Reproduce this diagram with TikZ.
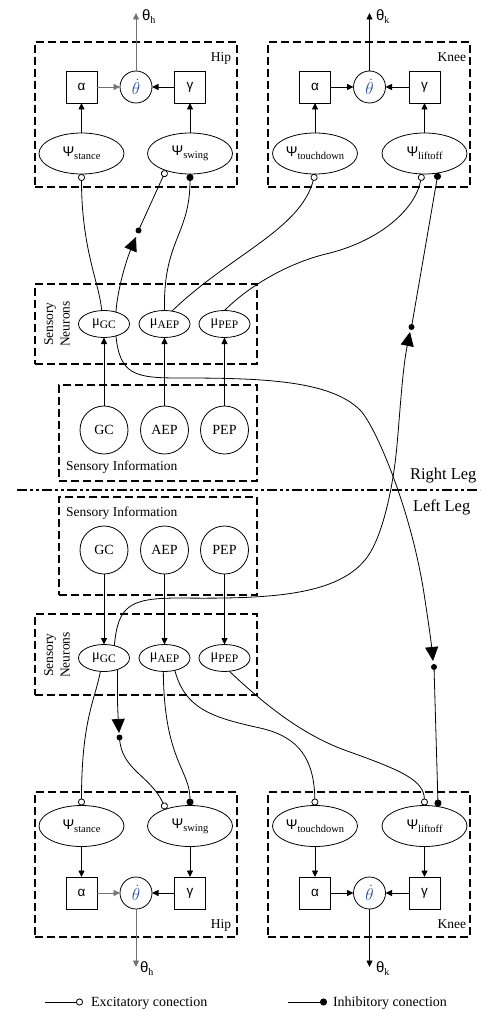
\documentclass[tikz,border=0pt]{standalone}
\usepackage{fontspec}
\setmainfont{Liberation Serif}
\newfontfamily\sansf{Liberation Sans}
\usetikzlibrary{arrows.meta,shapes.geometric}
\definecolor{thblue}{RGB}{40,80,160}
\newcommand\sbx[1]{\raisebox{-3pt}{\fontsize{10.5}{12}\selectfont #1}}
\newcommand\PsiL[1]{{\sansf\fontsize{14}{16}\selectfont Ψ}\sbx{#1}}
\newcommand\MuL[1]{{\fontsize{14.5}{16}\selectfont μ}\raisebox{-3pt}{\fontsize{11.5}{12}\selectfont #1}}
\newcommand\ThL[1]{{\sansf\fontsize{15}{17}\selectfont θ}\raisebox{-3pt}{\fontsize{10}{11}\selectfont #1}}
\newcommand\ThD{{\fontsize{16.5}{18}\selectfont\color{thblue}$\dot{\theta}$}}
\begin{document}
\begin{tikzpicture}[x=1pt,y=-1pt,
  every node/.style={inner sep=0pt, outer sep=0pt},
  ln/.style={line width=0.8pt},
  dbox/.style={draw, line width=2.3pt, dash pattern=on 8pt off 4pt},
  psi/.style={draw, ellipse, line width=0.8pt, minimum width=85pt, minimum height=41pt},
  mu/.style={draw, ellipse, line width=0.8pt, minimum width=51pt, minimum height=27pt},
  sq/.style={draw, line width=0.8pt, minimum width=31pt, minimum height=32pt, font=\sansf\fontsize{13.5}{15}\selectfont},
  thc/.style={draw, circle, line width=0.8pt, minimum size=32pt},
  inc/.style={draw, circle, line width=0.8pt, minimum size=48pt, font=\fontsize{14}{16}\selectfont},
  arr/.style={ln, -{Triangle[length=6.5pt,width=6pt]}},
  exc/.style={ln, -{Circle[length=7pt, fill=white]}},
  inh/.style={ln, -{Circle[length=7pt]}},
  big/.style={ln, -{Triangle[length=14pt,width=13pt]}},
  mdot/.style={circle, fill, minimum size=6pt},
  txt/.style={font=\fontsize{13.5}{16.5}\selectfont},
  leg/.style={font=\fontsize{14}{16}\selectfont},
  grayln/.style={draw=black!55},
]
\useasboundingbox (0,0) rectangle (480,1011);

% ---------- boxes ----------
\node[dbox, minimum width=202pt, minimum height=145pt] (hipR) at (136,114.5) {};
\node[dbox, minimum width=202pt, minimum height=145pt] (kneeR) at (369,114.5) {};
\node[dbox, minimum width=222pt, minimum height=80pt] (snR) at (146,324) {};
\node[dbox, minimum width=198pt, minimum height=96pt] (siR) at (158,433) {};
\node[dbox, minimum width=198pt, minimum height=98pt] (siL) at (158,546) {};
\node[dbox, minimum width=222pt, minimum height=81pt] (snL) at (146,654.5) {};
\node[dbox, minimum width=202pt, minimum height=145pt] (hipL) at (136,864.5) {};
\node[dbox, minimum width=202pt, minimum height=145pt] (kneeL) at (369,864.5) {};

% ---------- box labels ----------
\node[txt, anchor=base east] (hipRl) at (231,61.5) {Hip};
\node[txt, anchor=base east] (kneeRl) at (466,61.5) {Knee};
\node[txt, anchor=base east] (hipLl) at (231,928) {Hip};
\node[txt, anchor=base east] (kneeLl) at (466,928) {Knee};
\node[txt, anchor=base west] (siRl) at (66,470.5) {Sensory Information};
\node[txt, anchor=base west] (siLl) at (66,516) {Sensory Information};
\node[txt, rotate=90, align=center] (snRl) at (57,324) {Sensory\\Neurons};
\node[txt, rotate=90, align=center] (snLl) at (57,655) {Sensory\\Neurons};

% ---------- separator ----------
\coordinate (sepA) at (17,490);
\coordinate (sepB) at (480,490);
\draw[line width=2pt, dash pattern=on 10pt off 3pt on 3pt off 3pt on 3pt off 3pt] (sepA) -- (sepB);
\node[font=\fontsize{16.5}{18}\selectfont, anchor=base west] (rleg) at (410,479) {Right Leg};
\node[font=\fontsize{16.5}{18}\selectfont, anchor=base west] (lleg) at (413,511.5) {Left Leg};

% ---------- right leg: hip & knee ----------
\node[psi] (psiStR) at (81.5,153.5) {\PsiL{stance}};
\node[psi] (psiSwR) at (190,153.5) {\PsiL{swing}};
\node[psi] (psiTdR) at (315,153.5) {\PsiL{touchdown}};
\node[psi] (psiLoR) at (424.5,153.5) {\PsiL{liftoff}};
\node[sq] (alHR) at (81.5,87) {α};
\node[sq] (gaHR) at (190,87) {γ};
\node[thc] (thHR) at (136,87) {\ThD};
\node[sq] (alKR) at (315,87) {α};
\node[sq] (gaKR) at (424.5,87) {γ};
\node[thc] (thKR) at (369.5,87) {\ThD};
\coordinate (outHR) at (136,13);
\coordinate (outKR) at (369.5,13);
\node[anchor=base west] (lbHR) at (142,20.5) {\ThL{h}};
\node[anchor=base west] (lbKR) at (376,20.5) {\ThL{k}};

\draw[arr] (psiStR) -- (alHR);
\draw[arr] (psiSwR) -- (gaHR);
\draw[arr, grayln] (alHR) -- (thHR);
\draw[arr] (gaHR) -- (thHR);
\draw[arr, grayln] (thHR) -- (outHR);
\draw[arr] (psiTdR) -- (alKR);
\draw[arr] (psiLoR) -- (gaKR);
\draw[arr] (alKR) -- (thKR);
\draw[arr] (gaKR) -- (thKR);
\draw[arr] (thKR) -- (outKR);

% ---------- right leg: sensory ----------
\node[mu] (muGCR) at (104,324) {\MuL{GC}};
\node[mu] (muAEPR) at (164.5,324) {\MuL{AEP}};
\node[mu] (muPEPR) at (224.5,324) {\MuL{PEP}};
\node[inc] (gcR) at (104,430) {GC};
\node[inc] (aepR) at (164.5,430) {AEP};
\node[inc] (pepR) at (224.5,430) {PEP};
\draw[arr] (gcR) -- (muGCR);
\draw[arr] (aepR) -- (muAEPR);
\draw[arr] (pepR) -- (muPEPR);

% ---------- left leg: sensory ----------
\node[inc] (gcL) at (104,550) {GC};
\node[inc] (aepL) at (164.5,550) {AEP};
\node[inc] (pepL) at (224.5,550) {PEP};
\node[mu] (muGCL) at (104,658) {\MuL{GC}};
\node[mu] (muAEPL) at (164.5,658) {\MuL{AEP}};
\node[mu] (muPEPL) at (224.5,658) {\MuL{PEP}};
\draw[arr] (gcL) -- (muGCL);
\draw[arr] (aepL) -- (muAEPL);
\draw[arr] (pepL) -- (muPEPL);

% ---------- left leg: hip & knee ----------
\node[psi] (psiStL) at (81.5,826) {\PsiL{stance}};
\node[psi] (psiSwL) at (190,826) {\PsiL{swing}};
\node[psi] (psiTdL) at (315,826) {\PsiL{touchdown}};
\node[psi] (psiLoL) at (424.5,826) {\PsiL{liftoff}};
\node[sq] (alHL) at (81.5,893) {α};
\node[sq] (gaHL) at (190,893) {γ};
\node[thc] (thHL) at (136,893) {\ThD};
\node[sq] (alKL) at (315,893) {α};
\node[sq] (gaKL) at (424.5,893) {γ};
\node[thc] (thKL) at (369.5,893) {\ThD};
\coordinate (outHL) at (136,967);
\coordinate (outKL) at (369.5,967);
\node[anchor=base west] (lbHL) at (140,972) {\ThL{h}};
\node[anchor=base west] (lbKL) at (376,972) {\ThL{k}};

\draw[arr] (psiStL) -- (alHL);
\draw[arr] (psiSwL) -- (gaHL);
\draw[arr, grayln] (alHL) -- (thHL);
\draw[arr] (gaHL) -- (thHL);
\draw[arr, grayln] (thHL) -- (outHL);
\draw[arr] (psiTdL) -- (alKL);
\draw[arr] (psiLoL) -- (gaKL);
\draw[arr] (alKL) -- (thKL);
\draw[arr] (gaKL) -- (thKL);
\draw[arr] (thKL) -- (outKL);

% ---------- right leg connections ----------
\draw[exc] (muGCR.100) .. controls (100,285) and (81.5,250) .. (psiStR.south);
\coordinate (tipA) at (136,237);
\node[mdot] (dotA) at (138.5,230.5) {};
\draw[big] (muGCR.45) .. controls (118,285) and (128,256) .. (tipA);
\draw[exc] (dotA.center) -- (psiSwR.215);
\draw[inh] (muAEPR.north) .. controls (163,240) and (190,235) .. (psiSwR.south);
\draw[exc] (muAEPR.60) .. controls (230,255) and (300,230) .. (psiTdR.south);
\draw[exc] (muPEPR.north) .. controls (250,285) and (290,262) .. (330,253)
   .. controls (380,240) and (415,210) .. (psiLoR.263);

% ---------- cross-leg connections ----------
\coordinate (tipB) at (410,332);
\node[mdot] (dotB) at (411.5,327) {};
\draw[big] (muGCL.50) .. controls (118,605) and (130,598) .. (180,598)
   .. controls (270,599) and (340,596) .. (368,556)
   .. controls (382,536) and (393,490) .. (397,445)
   .. controls (400,412) and (402.5,369) .. (tipB);
\draw[inh] (dotB.center) -- (psiLoR.305);

\coordinate (tipC) at (433,661);
\node[mdot] (dotC) at (434,667) {};
\draw[big] (muGCR.315) .. controls (120,375) and (135,378) .. (180,378)
   .. controls (260,378) and (330,380) .. (360,410)
   .. controls (375,425) and (412,510) .. (425,600)
   .. controls (428,620) and (431,640) .. (tipC);
\draw[inh] (dotC.center) -- (psiLoL.55);

% ---------- left leg connections ----------
\draw[exc] (muGCL.255) .. controls (95,700) and (81.5,720) .. (psiStL.north);
\coordinate (tipD) at (119,733);
\node[mdot] (dotD) at (119.5,737.5) {};
\draw[big] (muGCL.320) .. controls (117,700) and (118,715) .. (tipD);
\draw[exc] (dotD.center) .. controls (121,770) and (150,775) .. (psiSwL.145);
\draw[inh] (muAEPL.265) .. controls (164,760) and (190,770) .. (psiSwL.north);
\draw[exc] (muAEPL.310) .. controls (185,710) and (215,718) .. (260,728)
   .. controls (300,737) and (314,760) .. (psiTdL.north);
\draw[exc] (muPEPL.290) .. controls (260,700) and (300,735) .. (350,752)
   .. controls (400,770) and (424,780) .. (psiLoL.north);

% ---------- legend ----------
\coordinate (lgE1) at (45,1002);
\coordinate (lgE2) at (83,1002);
\coordinate (lgI1) at (288,1002);
\coordinate (lgI2) at (327,1002);
\draw[exc] (lgE1) -- (lgE2);
\draw[inh] (lgI1) -- (lgI2);
\node[leg, anchor=base west] (lgEt) at (91,1006) {Excitatory conection};
\node[leg, anchor=base west] (lgIt) at (333,1006) {Inhibitory conection};
\end{tikzpicture}
\end{document}
